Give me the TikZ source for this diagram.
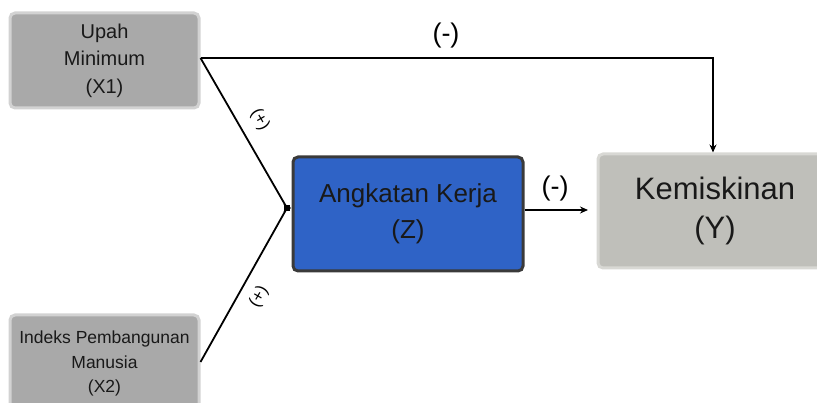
\documentclass[tikz,border=0pt]{standalone}
\usepackage{fontspec}
\setmainfont{Liberation Sans}
\usetikzlibrary{arrows.meta,calc}
\definecolor{greybox}{HTML}{A9A9A9}
\definecolor{greyrim}{HTML}{D2D2D2}
\definecolor{ybox}{HTML}{BFBFBA}
\definecolor{yrim}{HTML}{D8D8D4}
\definecolor{zbox}{HTML}{2F63C6}
\definecolor{zrim}{HTML}{3A3A3A}
\tikzset{
  varbox/.style={rectangle, rounded corners=5pt, line width=3pt, align=center,
    inner sep=0pt, text=black!90},
  xbox/.style={varbox, fill=greybox, draw=greyrim, minimum width=189pt},
  arr/.style={-{Stealth[length=8pt,width=7pt]}, line width=1.8pt},
  conn/.style={line width=1.8pt},
  sign/.style={font=\fontsize{27}{30}\selectfont, inner sep=0pt},
  smallsign/.style={font=\fontsize{17}{19}\selectfont, inner sep=0pt}
}
\begin{document}
\begin{tikzpicture}[x=1pt, y=-1pt]
  \useasboundingbox (0,0) rectangle (817,403);
  \clip (0,0) rectangle (817,403);

  % variable boxes
  \node[xbox, minimum height=95pt, font=\fontsize{20}{27.5}\selectfont]
    (x1) at (104.5,60.5) {Upah\\Minimum\\(X1)};
  \node[xbox, minimum height=97pt, font=\fontsize{17.5}{24.5}\selectfont]
    (x2) at (104.5,363.5) {Indeks Pembangunan\\Manusia\\(X2)};
  \node[varbox, fill=zbox, draw=zrim, minimum width=230pt, minimum height=114pt,
    font=\fontsize{26}{36}\selectfont] (z) at (408,214) {Angkatan Kerja\\(Z)};
  \node[varbox, fill=ybox, draw=yrim, minimum width=234pt, minimum height=114pt,
    font=\fontsize{31}{39}\selectfont] (y) at (715,211) {Kemiskinan\\(Y)};

  % connector points
  \coordinate (s1) at ($(x1.east)+(0,-2.5)$);
  \coordinate (s2) at ($(x2.east)+(0,-1.5)$);
  \coordinate (j) at (287,208);
  \coordinate (tr) at (713,58);

  % connectors
  \draw[arr] (s1) -| (y.north -| tr);
  \draw[conn] (s1) -- (j);
  \draw[conn] (s2) -- (j);
  \fill (j) ++(-3,-3) rectangle ++(6,6);
  \draw[arr] (j) -- (z.west |- j);
  \draw[arr] (z.east |- 0,210) -- (588,210);

  % signs
  \node[sign] (m1) at (446,36) {(-)};
  \node[sign] (m2) at (555,189) {(-)};
  \node[smallsign, rotate=-60] (p1) at (260,120) {(+)};
  \node[smallsign, rotate=60] (p2) at (259,297) {(+)};
\end{tikzpicture}
\end{document}
